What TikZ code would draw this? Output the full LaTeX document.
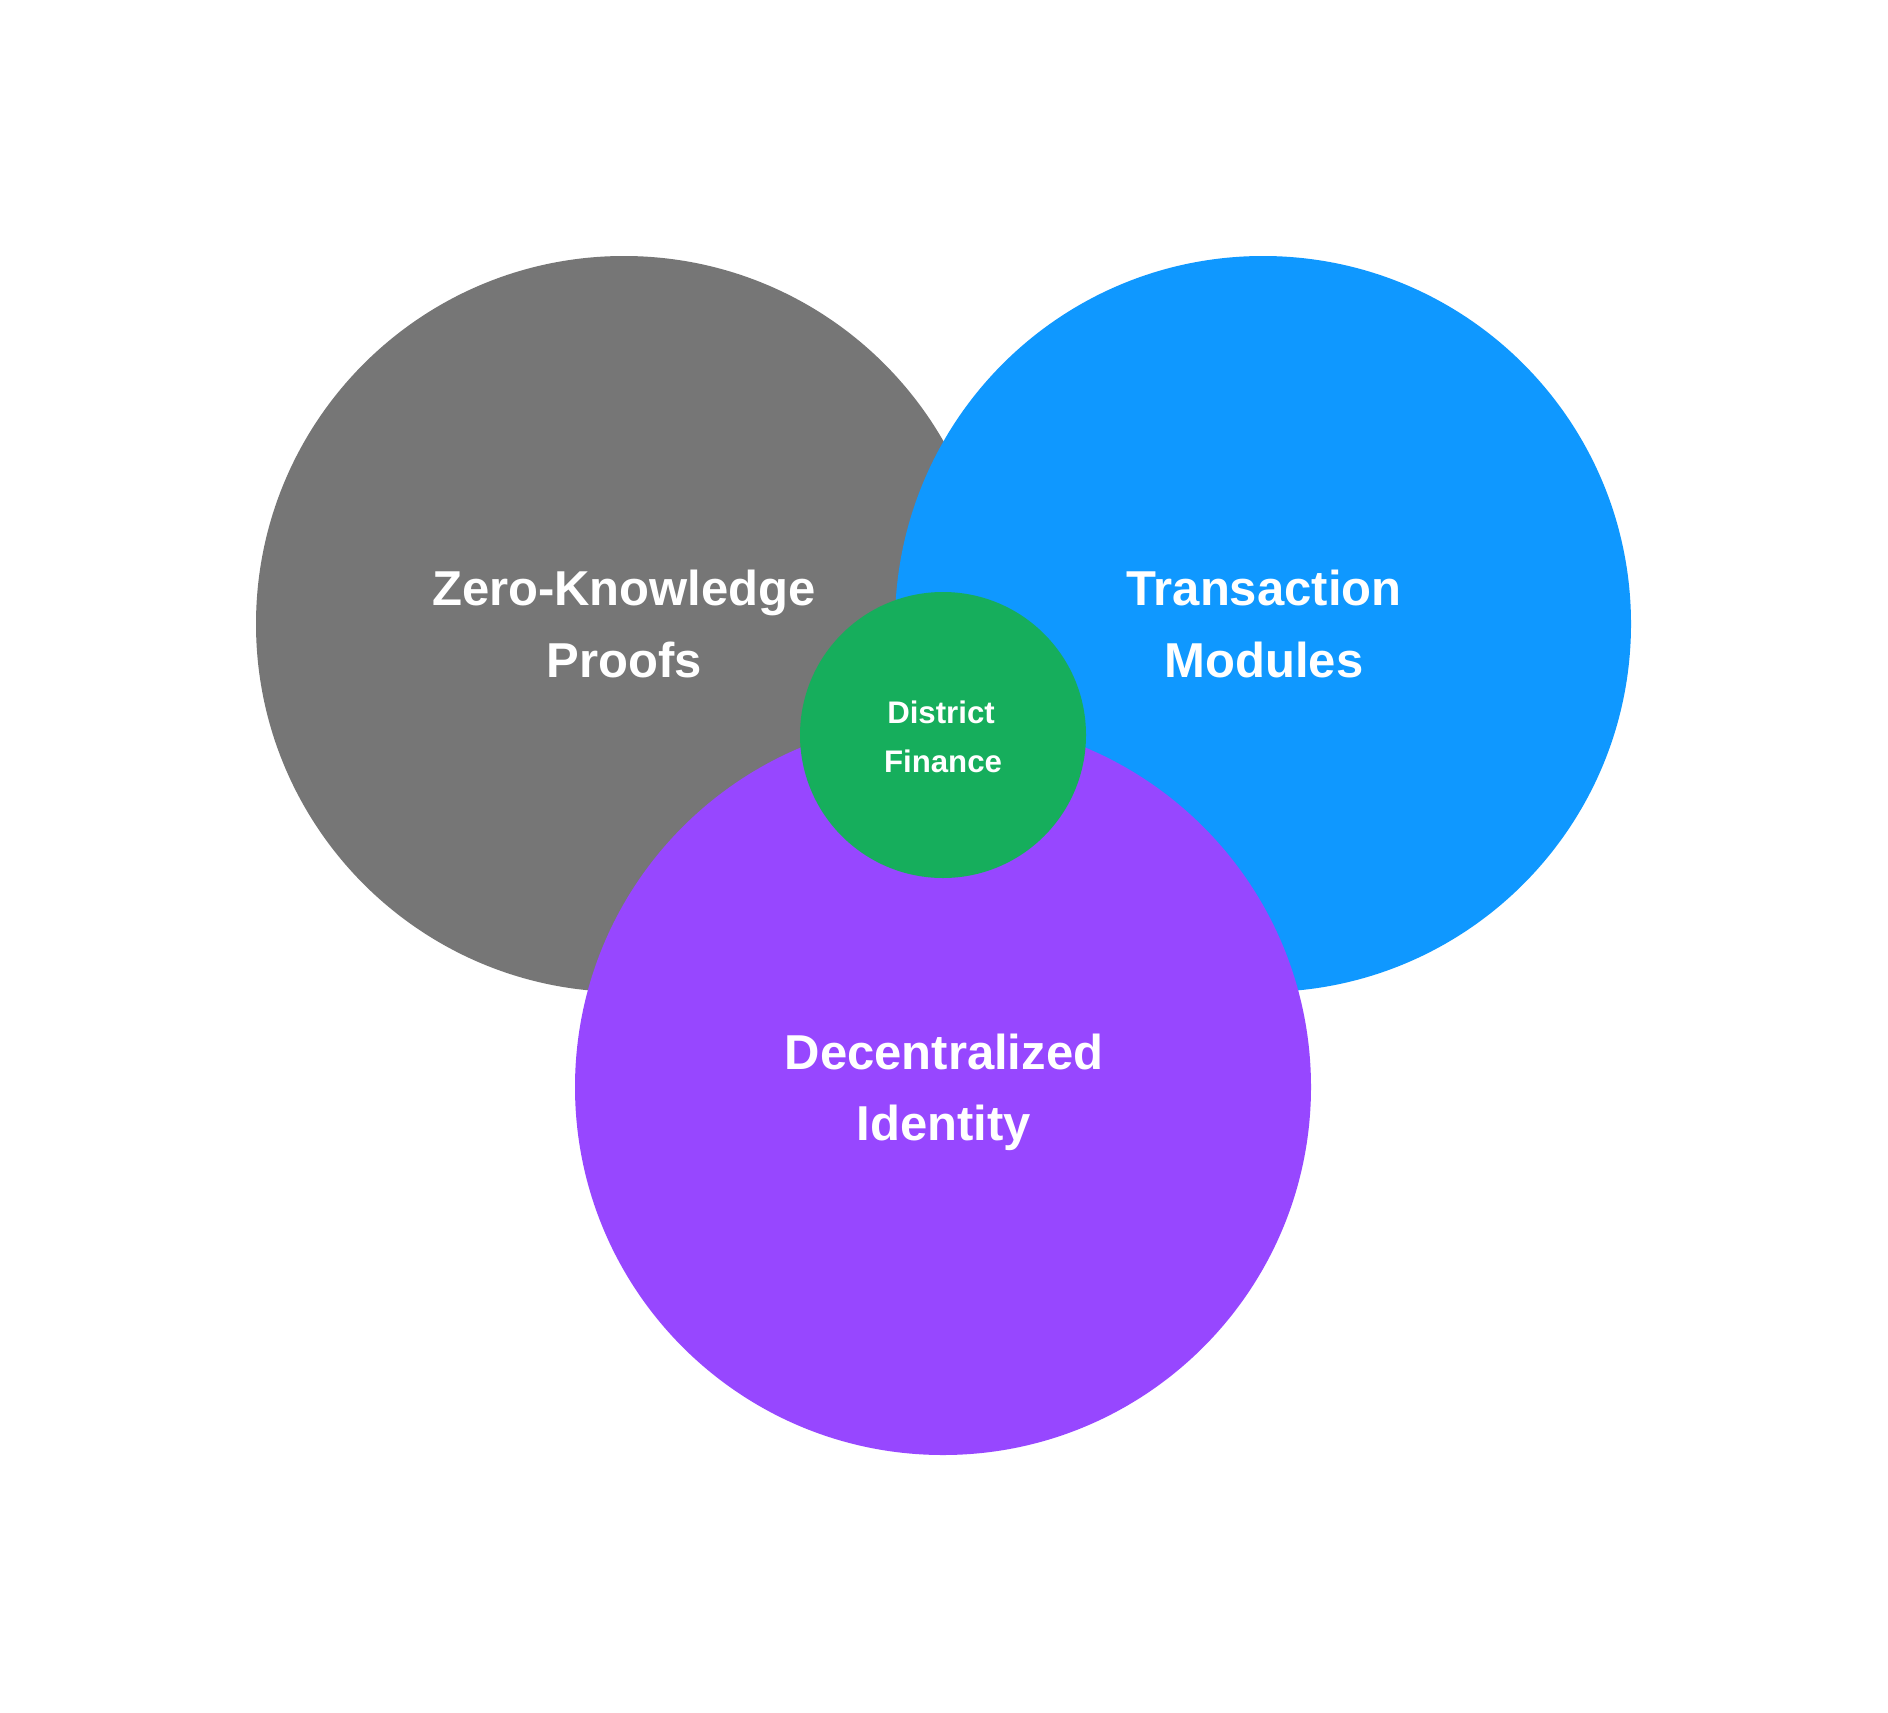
\documentclass[tikz,border=0pt]{standalone}
\usepackage{fontspec}
\setmainfont{Liberation Sans}
\definecolor{zkgray}{HTML}{767676}
\definecolor{txblue}{HTML}{0F98FF}
\definecolor{idpurple}{HTML}{9747FF}
\definecolor{dfgreen}{HTML}{16AE5C}
\begin{document}
\begin{tikzpicture}[x=0.5pt,y=-0.5pt,
  disc/.style={circle, inner sep=0pt, minimum size=368pt},
  core/.style={circle, inner sep=0pt, minimum size=143pt},
  biglbl/.style={anchor=base, text=white, inner sep=0pt,
    font=\bfseries\fontsize{24.5}{30}\selectfont},
  smalllbl/.style={anchor=base, text=white, inner sep=0pt,
    font=\bfseries\fontsize{15.6}{20}\selectfont}]
  \useasboundingbox[fill=white] (0,0) rectangle (1888,1712);

  % three overlapping discs, back to front
  \node[disc, fill=zkgray] (zk) at (624,624) {};
  \node[disc, fill=txblue] (tx) at (1263,624) {};
  \node[disc, fill=idpurple] (id) at (943,1087) {};
  % small disc in the middle
  \node[core, fill=dfgreen] (df) at (943,735) {};

  % labels
  \node[biglbl] (zk1) at (624,605) {Zero-Knowledge};
  \node[biglbl] (zk2) at (624,677) {Proofs};
  \node[biglbl] (tx1) at (1264,605) {Transaction};
  \node[biglbl] (tx2) at (1264,677) {Modules};
  \node[biglbl] (id1) at (944,1069) {Decentralized};
  \node[biglbl] (id2) at (944,1140) {Identity};
  \node[smalllbl] (df1) at (941,723) {District};
  \node[smalllbl] (df2) at (943,772) {Finance};
\end{tikzpicture}
\end{document}
